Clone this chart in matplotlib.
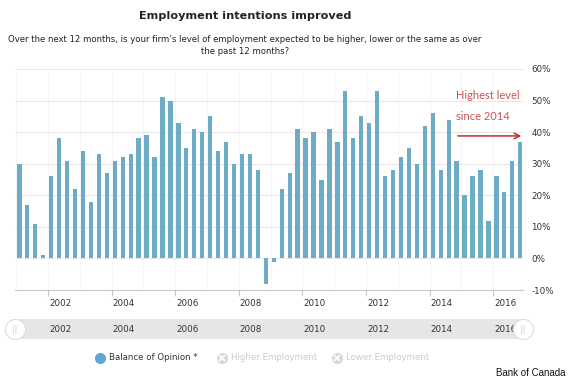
## --- EMPLOYMENT INTENTIONS CHART --- ##
""" Bank of Canada business outlook survey: balance of opinion on employment """

import matplotlib
matplotlib.use('Agg')
import matplotlib.pyplot as plt
import numpy as np

# -- DATA -- #
first_year = 2001
balance = [30, 17, 11, 1, 26, 38, 31, 22, 34, 18, 33, 27, 31, 32, 33, 38,
           39, 32, 51, 50, 43, 35, 41, 40, 45, 34, 37, 30, 33, 33, 28, -8,
           -1, 22, 27, 41, 38, 40, 25, 41, 37, 53, 38, 45, 43, 53, 26, 28,
           32, 35, 30, 42, 46, 28, 44, 31, 20, 26, 28, 12, 26, 21, 31, 37]
tick_years = [2002, 2004, 2006, 2008, 2010, 2012, 2014, 2016]
y_ticks = [-10, 0, 10, 20, 30, 40, 50, 60]
legend_items = ['Balance of Opinion *', 'Higher Employment', 'Lower Employment']

BAR_COLOR = '#6eabc6'
W, H = 570.0, 380.0

def fx(px):
    return px / W

def fy(py):
    return 1 - py / H

# -- FIGURE -- #
fig = plt.figure(figsize=(5.7, 3.8), dpi=100)
fig.patch.set_facecolor('white')

cx = fx(245)
fig.text(cx, fy(16), 'Employment intentions improved', ha='center', va='center',
         fontsize=8.1, fontweight='bold', color='#222222')
fig.text(cx, fy(40), 'Over the next 12 months, is your firm\u2019s level of employment '
         'expected to be higher, lower or the same as over', ha='center', va='center',
         fontsize=6.15, color='#222222')
fig.text(cx, fy(51), 'the past 12 months?', ha='center', va='center',
         fontsize=6.15, color='#222222')

# -- MAIN AXES -- #
x0, x1 = 15, 523
ax = fig.add_axes([fx(x0), fy(290), fx(x1 - x0), fy(69) - fy(290)])
dates = first_year + 0.1 + np.arange(len(balance)) * 0.25
ax.bar(dates, balance, width=0.135, color=BAR_COLOR, zorder=3)
ax.set_xlim(2000.962, 2016.937)
ax.set_ylim(-10, 60)

ax.set_yticks(y_ticks)
ax.yaxis.tick_right()
ax.set_yticklabels(['{}%'.format(v) for v in y_ticks], fontsize=6.3, color='#333333')
ax.tick_params(axis='y', length=0, pad=6)
for v in y_ticks:
    ax.axhline(v, color='#e8e8e8', lw=0.8, zorder=1)
for yr in range(2001, 2017):
    ax.axvline(yr, color='#f4f4f4', lw=0.6, zorder=0)

ax.set_xticks(tick_years)
ax.set_xticklabels([])
ax.tick_params(axis='x', length=4, color='#c8c8c8', width=0.8)
for yr in tick_years:
    ax.text(yr + 0.38, -0.04, str(yr), transform=ax.get_xaxis_transform(),
            ha='center', va='top', fontsize=6.3, color='#333333')

for s in ['top', 'right', 'left']:
    ax.spines[s].set_visible(False)
ax.spines['bottom'].set_color('#c8c8c8')
ax.spines['bottom'].set_linewidth(0.8)

# -- ANNOTATION -- #
ax.text(2014.83, 51.7, 'Highest level', fontsize=8, color='#d05252',
        family=['Lato', 'DejaVu Sans'], ha='left', va='center')
ax.text(2014.83, 44.8, 'since 2014', fontsize=8, color='#d05252',
        family=['Lato', 'DejaVu Sans'], ha='left', va='center')
ax.annotate('', xy=(2016.97, 38.8), xytext=(2014.8, 38.8),
            arrowprops=dict(arrowstyle='->', color='#b83232', lw=1.1),
            annotation_clip=False)

# -- NAVIGATOR -- #
nav = fig.add_axes([fx(x0), fy(339), fx(x1 - x0), fy(319) - fy(339)])
nav.set_xlim(2000.962, 2016.937)
nav.set_ylim(0, 1)
nav.set_facecolor('#e6e6e6')
nav.set_xticks([])
nav.set_yticks([])
for s in nav.spines.values():
    s.set_visible(False)
for yr in tick_years:
    nav.text(yr + 0.38, 0.5, str(yr), ha='center', va='center',
             fontsize=6.3, color='#333333')
for hx in [2000.962, 2016.937]:
    nav.scatter([hx], [0.5], s=210, color='white', edgecolors='#dddddd',
                linewidths=0.8, zorder=5, clip_on=False)
    nav.text(hx, 0.5, '||', ha='center', va='center', fontsize=5.5,
             color='#cccccc', zorder=6, clip_on=False)

# -- LEGEND -- #
leg_x = [100, 222, 337]
for i, name in enumerate(legend_items):
    if i == 0:
        fig.add_artist(plt.Line2D([fx(leg_x[i])], [fy(358)], marker='o', markersize=7,
                                  color='#5fa8d3', transform=fig.transFigure))
        col = '#333333'
    else:
        fig.add_artist(plt.Line2D([fx(leg_x[i])], [fy(358)], marker='o', markersize=7,
                                  color='#d8d8d8', transform=fig.transFigure))
        fig.add_artist(plt.Line2D([fx(leg_x[i])], [fy(358)], marker='x', markersize=4,
                                  markeredgewidth=1.2, color='white',
                                  transform=fig.transFigure))
        col = '#cccccc'
    fig.text(fx(leg_x[i] + 9), fy(358), name, ha='left', va='center',
             fontsize=6.2, color=col)

fig.text(fx(565), fy(373), 'Bank of Canada', ha='right', va='center',
         fontsize=7, color='#111111', family=['Liberation Sans', 'DejaVu Sans'])

plt.savefig('out.png', dpi=100)
plt.close(fig)
